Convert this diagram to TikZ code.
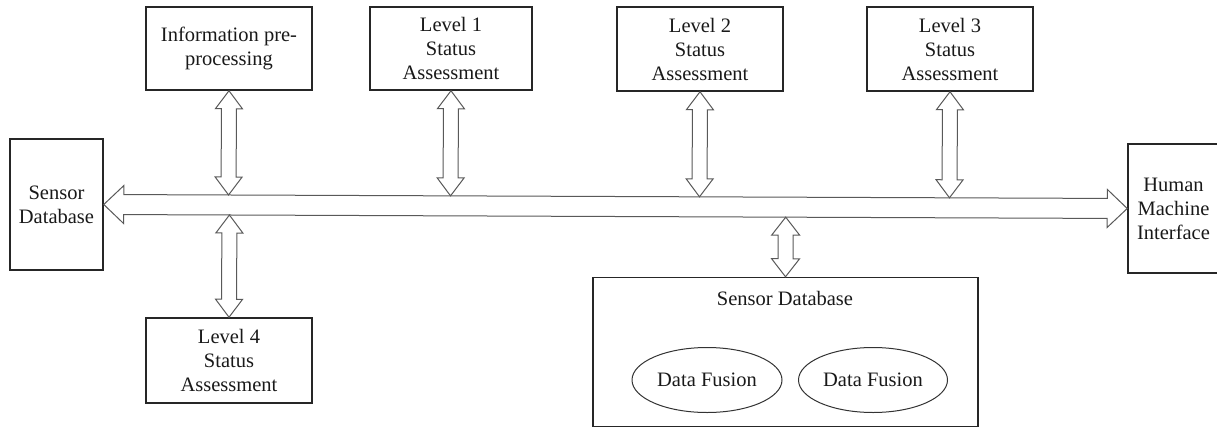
\documentclass[tikz,border=0pt]{standalone}
\usepackage{fontspec}
\setmainfont{Liberation Serif}
\usetikzlibrary{calc,shapes.geometric}

\tikzset{
  txt/.style={font=\fontsize{20.5}{24}\selectfont, align=center, text=black!90},
  box/.style={txt, draw=black!85, line width=1.5pt, inner sep=0pt},
  oval/.style={txt, ellipse, draw=black!80, line width=1pt, inner sep=0pt},
  blockarrow/.style={draw=black!65, line width=1pt, fill=white, line join=miter},
}

% Hollow double-headed block arrow between two points:
% #1 start, #2 end, #3 shaft half-width, #4 head half-width, #5 head length
\newcommand\dblarrow[5]{%
  \coordinate (da-a) at ($(#1)!#5!(#2)$);
  \coordinate (da-b) at ($(#2)!#5!(#1)$);
  \draw[blockarrow] (#1)
    -- ($(da-a)!#4!90:(#2)$) -- ($(da-a)!#3!90:(#2)$)
    -- ($(da-b)!#3!-90:(#1)$) -- ($(da-b)!#4!-90:(#1)$)
    -- (#2)
    -- ($(da-b)!#4!90:(#1)$) -- ($(da-b)!#3!90:(#1)$)
    -- ($(da-a)!#3!-90:(#2)$) -- ($(da-a)!#4!-90:(#2)$)
    -- cycle;
}

\begin{document}
\begin{tikzpicture}[x=1pt, y=-1pt]
\useasboundingbox (0,0) rectangle (1217,428);

% side boxes
\node[box, minimum width=93pt, minimum height=131pt] (sdl) at (56.5,204.5) {Sensor\\Database};
\node[box, minimum width=91pt, minimum height=129pt] (hmi) at (1173.5,208.5) {Human\\Machine\\Interface};

% top row
\node[box, minimum width=166pt, minimum height=83pt] (pre) at (229,48.5) {Information pre-\\processing};
\node[box, minimum width=162pt, minimum height=83pt] (l1) at (451,48.5) {Level 1\\Status\\Assessment};
\node[box, minimum width=166pt, minimum height=84pt] (l2) at (700,49) {Level 2\\Status\\Assessment};
\node[box, minimum width=166pt, minimum height=84pt] (l3) at (950,49) {Level 3\\Status\\Assessment};

% bottom row
\node[box, minimum width=166pt, minimum height=85pt] (l4) at (229,360.5) {Level 4\\Status\\Assessment};
\node[box, minimum width=385pt, minimum height=149pt] (sdb) at (785.5,352) {};
\node[txt] (sdbl) at (785,298) {Sensor Database};
\node[oval, minimum width=150pt, minimum height=65pt] (df1) at (707,380) {Data Fusion};
\node[oval, minimum width=149pt, minimum height=65pt] (df2) at (873,380) {Data Fusion};

% main bus
\dblarrow{sdl.east}{hmi.west}{10pt}{19pt}{20pt}

% attachment points on the bus edges
\foreach \n/\s in {pre/south, l1/south, l2/south, l3/south}{
  \coordinate (p-\n) at ($(sdl.east)!(\n.\s)!(hmi.west)$);
  \coordinate (bus-\n) at ($(p-\n)+(0,-10)$);
}
\foreach \n/\s in {l4/north, sdb/north}{
  \coordinate (p-\n) at ($(sdl.east)!(\n.\s)!(hmi.west)$);
  \coordinate (bus-\n) at ($(p-\n)+(0,10)$);
}

% branches
\dblarrow{pre.south}{bus-pre}{7.5pt}{13.5pt}{18pt}
\dblarrow{l1.south}{bus-l1}{7.5pt}{13.5pt}{18pt}
\dblarrow{l2.south}{bus-l2}{7.5pt}{13.5pt}{18pt}
\dblarrow{l3.south}{bus-l3}{7.5pt}{13.5pt}{18pt}
\dblarrow{bus-l4}{l4.north}{7.5pt}{13.5pt}{18pt}
\dblarrow{bus-sdb}{sdb.north}{7.5pt}{14pt}{18pt}
\end{tikzpicture}
\end{document}
